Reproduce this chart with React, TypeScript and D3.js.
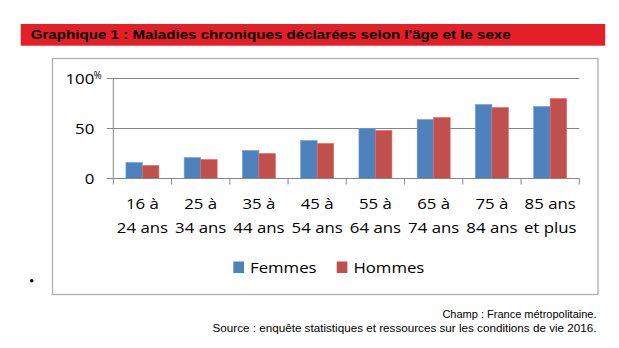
import React from "react";
import * as d3 from "d3";

const categoriesLine1 = ["16 à", "25 à", "35 à", "45 à", "55 à", "65 à", "75 à", "85 ans"];
const categoriesLine2 = ["24 ans", "34 ans", "44 ans", "54 ans", "64 ans", "74 ans", "84 ans", "et plus"];
const femmes = [16, 21, 28, 38, 50, 59, 74, 72];
const hommes = [13, 19, 25, 35, 48, 61, 71, 80];
const seriesNames = ["Femmes", "Hommes"];
const seriesColors = ["#4F81BD", "#C0504D"];
const yTicks = [0, 50, 100];

const title = "Graphique 1 : Maladies chroniques déclarées selon l'âge et le sexe";
const note1 = "Champ : France métropolitaine.";
const note2 = "Source : enquête statistiques et ressources sur les conditions de vie 2016.";

export default function App() {
  const W = 619, H = 348;
  const plotL = 113.3, plotR = 579.3, plotT = 78.5, plotB = 178.5;
  const x = d3.scaleBand<number>().domain(d3.range(categoriesLine1.length)).range([plotL, plotR]).paddingInner(0).paddingOuter(0);
  const y = d3.scaleLinear().domain([0, 100]).range([plotB, plotT]);
  const barW = 16.5;
  const font = "'Open Sans', sans-serif";
  const sx = 1.12;
  const data = [femmes, hommes];
  const axisColor = "#868686";

  const T = (props: { x: number; y: number; anchor?: string; size?: number; children: React.ReactNode }) => (
    <text
      transform={`translate(${props.x},${props.y}) scale(${sx},1)`}
      textAnchor={props.anchor || "start"}
      fontFamily={font}
      fontSize={props.size || 15}
      fill="#000"
    >
      {props.children}
    </text>
  );

  return (
    <svg width={W} height={H} style={{ position: "absolute", left: 0, top: 0 }}>
      <rect x={0} y={0} width={W} height={H} fill="#fff" />
      {/* Title banner */}
      <rect x={20.7} y={24} width={584.5} height={21.7} fill="#E41F28" />
      <text x={30.7} y={38.5} fontFamily="'Liberation Sans', Arial, sans-serif" fontWeight="bold" fontSize={13.5} fill="#000" textLength={480} lengthAdjust="spacingAndGlyphs">{title}</text>
      {/* Chart box */}
      <rect x={52.5} y={58.5} width={545.5} height={236} fill="#fff" stroke="#b0b0b0" strokeWidth={1.3} />
      {/* Gridlines */}
      {yTicks.map((t) => (
        <g key={t}>
          <line x1={plotL - 6.5} x2={plotR} y1={y(t)} y2={y(t)} stroke={axisColor} strokeWidth={1} />
          <T x={94.3} y={y(t) + 5.3} anchor="end">{t}</T>
        </g>
      ))}
      <text x={93.5} y={78.5} fontFamily={font} fontSize={10} fill="#000">%</text>
      {/* Y axis */}
      <line x1={plotL} x2={plotL} y1={plotT} y2={plotB} stroke={axisColor} strokeWidth={1} />
      {/* X ticks */}
      {d3.range(categoriesLine1.length + 1).map((i) => {
        const xx = i < categoriesLine1.length ? (x(i) as number) : plotR;
        return <line key={i} x1={xx} x2={xx} y1={plotB} y2={plotB + 6} stroke={axisColor} strokeWidth={1} />;
      })}
      {/* Bars */}
      {data.map((s, si) =>
        s.map((v, i) => {
          const cx = (x(i) as number) + x.bandwidth() / 2;
          const bx = cx - barW + si * barW;
          return (
            <rect key={si + "-" + i} x={bx} y={y(v)} width={barW} height={y(0) - y(v)} fill={seriesColors[si]} stroke={d3.color(seriesColors[si])!.brighter(0.6).toString()} strokeWidth={0.6} />
          );
        })
      )}
      <line x1={plotL} x2={plotR} y1={plotB} y2={plotB} stroke={axisColor} strokeWidth={1} />
      {/* X labels */}
      {categoriesLine1.map((c, i) => {
        const cx = (x(i) as number) + x.bandwidth() / 2;
        return (
          <g key={c}>
            <T x={cx} y={209.3} anchor="middle">{c}</T>
            <T x={cx} y={233} anchor="middle">{categoriesLine2[i]}</T>
          </g>
        );
      })}
      {/* Legend */}
      {seriesNames.map((n, i) => {
        const lx = [233.3, 336.7][i];
        return (
          <g key={n}>
            <rect x={lx} y={261.5} width={10.7} height={11.5} fill={seriesColors[i]} />
            <T x={lx + 16.7} y={273.3}>{n}</T>
          </g>
        );
      })}
      {/* Bullet */}
      <circle cx={31.7} cy={280.7} r={1.8} fill="#000" />
      {/* Notes */}
      <text x={596.5} y={317.7} textAnchor="end" fontFamily="'Liberation Sans', Arial, sans-serif" fontSize={11} fill="#000">{note1}</text>
      <text x={596.5} y={331.7} textAnchor="end" fontFamily="'Liberation Sans', Arial, sans-serif" fontSize={11} fill="#000" textLength={384} lengthAdjust="spacingAndGlyphs">{note2}</text>
    </svg>
  );
}
